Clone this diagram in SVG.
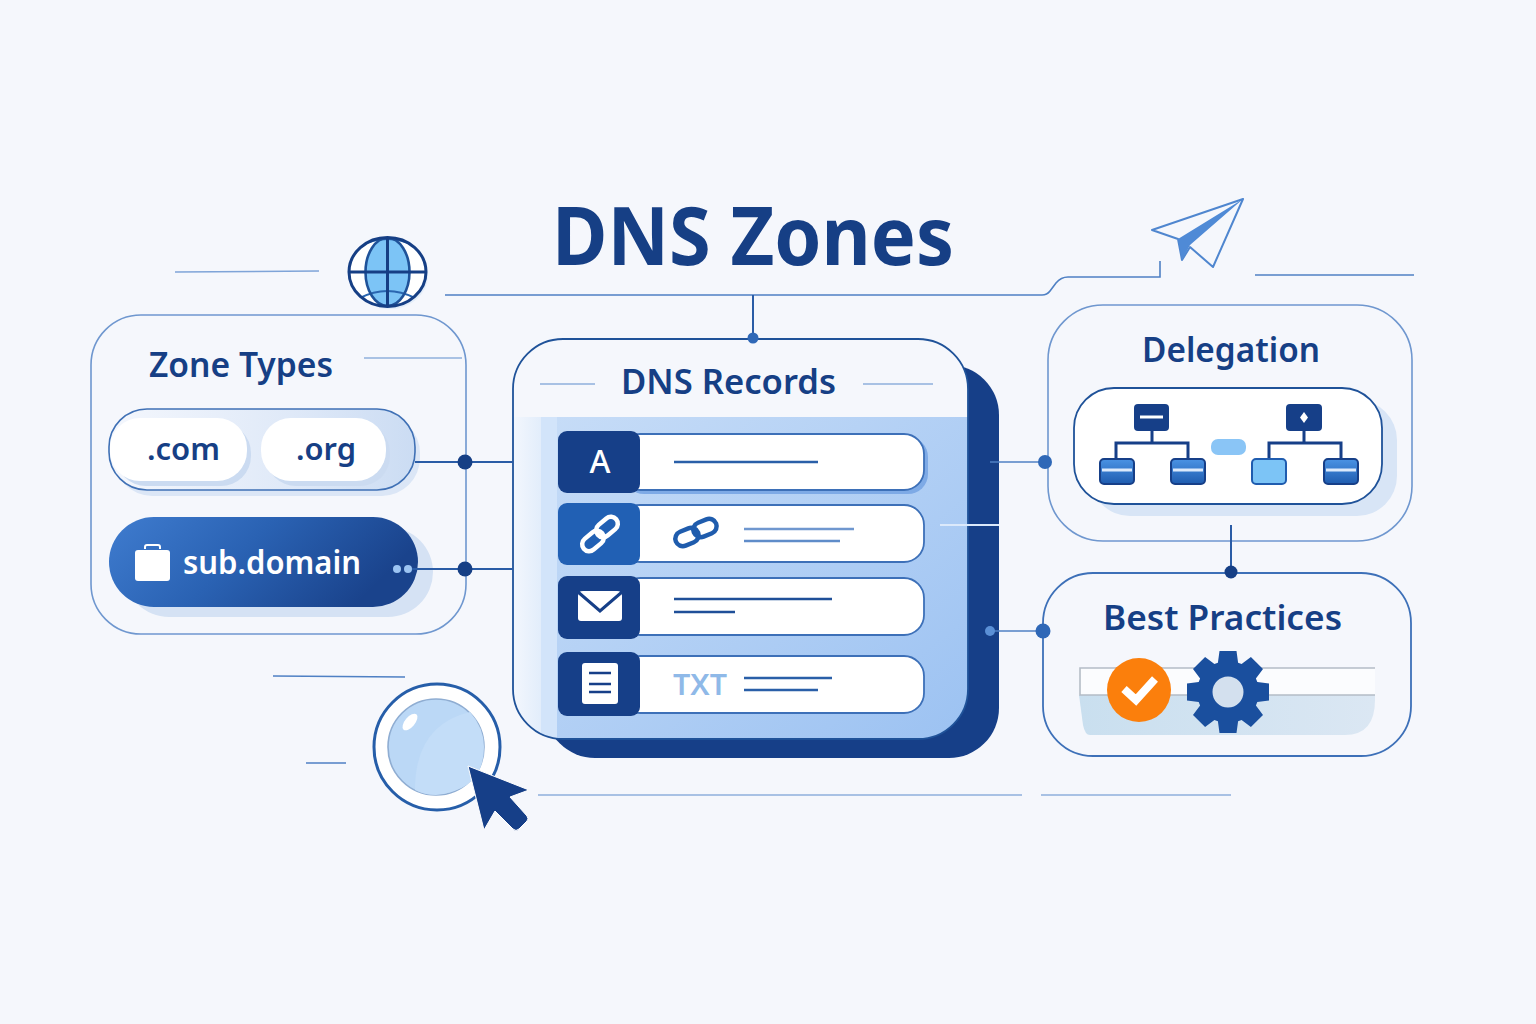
<svg xmlns="http://www.w3.org/2000/svg" width="1536" height="1024" viewBox="0 0 1536 1024">
<style>
text{font-family:"Noto Sans","Open Sans","Liberation Sans",sans-serif;font-weight:600;fill:#163f85}
.panel{fill:#f5f7fc;stroke:#6f97cf;stroke-width:1.6}
.ln{fill:none;stroke:#4f80c4;stroke-width:1.6}
.lt{fill:none;stroke:#8fb0dc;stroke-width:1.6}
.dk{fill:none;stroke:#2a5ca6;stroke-width:2}
.row{fill:#fff;stroke:#3d70b8;stroke-width:1.8}
.sq{fill:#163f88}
.rl{stroke-width:2.6;fill:none;stroke:#1d4f9c}
.tree{fill:none;stroke:#163f88;stroke-width:3}
.cb{stroke:#163f88;stroke-width:2}
</style>
<defs>
<linearGradient id="gBody" x1="0" y1="0" x2="1" y2="1"><stop offset="0" stop-color="#c6dcf7"/><stop offset="1" stop-color="#9cc2f2"/></linearGradient>
<linearGradient id="gSub" x1="0" y1="0" x2="1" y2="0.3"><stop offset="0" stop-color="#3f7ccf"/><stop offset="0.5" stop-color="#2a62b3"/><stop offset="1" stop-color="#1a438c"/></linearGradient>
<linearGradient id="gPill" x1="0" y1="0" x2="1" y2="0"><stop offset="0" stop-color="#f4f7fd"/><stop offset="0.6" stop-color="#dfe9f8"/><stop offset="1" stop-color="#cbdcf3"/></linearGradient>
<linearGradient id="gStrip" x1="0" y1="0" x2="1" y2="0"><stop offset="0" stop-color="#f3f7fd"/><stop offset="1" stop-color="#e2edfb"/></linearGradient>
<linearGradient id="gChild" x1="0" y1="0" x2="0" y2="1"><stop offset="0" stop-color="#4a93e4"/><stop offset="1" stop-color="#1f5caf"/></linearGradient>
<linearGradient id="gBar" x1="0" y1="0" x2="1" y2="0"><stop offset="0" stop-color="#c9dfef"/><stop offset="1" stop-color="#dbe7f3"/></linearGradient>
<clipPath id="cpRec"><rect x="513" y="339" width="455" height="400" rx="50"/></clipPath>
<clipPath id="cpGlobe"><ellipse cx="387.500" cy="272" rx="38" ry="34"/></clipPath>
</defs>
<rect width="1536" height="1024" fill="#f5f7fc"/>

<g id="title"><text x="552" y="265" font-size="81" textLength="402" lengthAdjust="spacingAndGlyphs" style="font-weight:700">DNS Zones</text></g>

<g id="zone-types">
<rect class="panel" x="91" y="315" width="375" height="319" rx="50"/>
<text x="149" y="377" font-size="35" textLength="184" lengthAdjust="spacingAndGlyphs">Zone Types</text>
<path class="lt" d="M364 358H462"/>
<rect x="114" y="415" width="306" height="81" rx="38" fill="#dbe6f6"/>
<rect x="109" y="409" width="306" height="81" rx="38" fill="url(#gPill)" stroke="#3f70b5" stroke-width="1.6"/>
<rect x="116" y="423" width="135" height="63" rx="30" fill="#cbdbf1"/>
<rect x="266" y="423" width="124" height="63" rx="30" fill="#cbdbf1"/>
<rect x="110" y="418" width="137" height="63" rx="30" fill="#fff"/>
<rect x="261" y="418" width="125" height="63" rx="30" fill="#fff"/>
<text x="147" y="460" font-size="31" textLength="73" lengthAdjust="spacingAndGlyphs">.com</text>
<text x="296" y="460" font-size="31" textLength="60" lengthAdjust="spacingAndGlyphs">.org</text>
<rect x="124" y="527" width="309" height="90" rx="45" fill="#d5e2f4"/>
<rect x="109" y="517" width="309" height="90" rx="45" fill="url(#gSub)"/>
<path d="M135 553q0-3 3-3h29q3 0 3 3v25q0 3-3 3h-29q-3 0-3-3z" fill="#fff"/>
<path d="M145 549v-2q0-2 2-2h11q2 0 2 2v2" fill="none" stroke="#fff" stroke-width="2"/>
<text x="183" y="574" font-size="33" textLength="178" lengthAdjust="spacingAndGlyphs" style="fill:#fff">sub.domain</text>
<circle cx="397" cy="569" r="4" fill="#9cc4f2"/><circle cx="408" cy="569" r="4" fill="#9cc4f2"/>
</g>

<g id="globe">
<ellipse cx="390" cy="275" rx="38" ry="34" fill="#e3edf9"/>
<ellipse cx="387.500" cy="272" rx="38" ry="34" fill="#fff"/>
<g clip-path="url(#cpGlobe)">
<path d="M360 244Q387 228 415 244L420 230H355ZM360 300Q387 316 415 300L420 314H355Z" fill="#7cc4f6"/>
<ellipse cx="387.500" cy="272" rx="22" ry="34" fill="#7cc4f6"/>
<path d="M360 246Q387 232 415 246M360 298Q387 284 415 298" fill="none" stroke="#2a66b0" stroke-width="2"/>
<path d="M355 241Q387 225 420 241M355 303Q387 319 420 303" fill="none" stroke="#163f85" stroke-width="2.500"/>
</g>
<ellipse cx="387.500" cy="272" rx="22" ry="34" fill="none" stroke="#1f5299" stroke-width="2.600"/>
<path d="M349 272H426M387.500 238V306" stroke="#163f85" stroke-width="3"/>
<ellipse cx="387.500" cy="272" rx="38.500" ry="34.500" fill="none" stroke="#163f85" stroke-width="3"/>
</g>

<g id="plane">
<path d="M1243 199L1152 230L1178 239L1182 260L1190 247L1213 267Z" fill="#f5f7fc" stroke="#4f86cf" stroke-width="2" stroke-linejoin="round"/>
<path d="M1243 199L1178 239L1182 260L1190 245Z" fill="#4f8ad6"/>
</g>

<g id="dns-records">
<rect x="545" y="365" width="454" height="393" rx="50" fill="#163f88"/>
<rect x="513" y="339" width="455" height="400" rx="50" fill="#f5f7fc"/>
<g clip-path="url(#cpRec)">
<rect x="513" y="417" width="28" height="322" fill="url(#gStrip)"/>
<rect x="541" y="417" width="16" height="322" fill="#d2e4fa"/>
<rect x="557" y="417" width="411" height="322" fill="url(#gBody)"/>
</g>
<rect x="513" y="339" width="455" height="400" rx="50" fill="none" stroke="#1f5299" stroke-width="1.800"/>
<text x="621" y="394" font-size="35" textLength="215" lengthAdjust="spacingAndGlyphs">DNS Records</text>
<path class="lt" d="M540 384H595M863 384H933"/>

<rect x="624" y="437" width="304" height="57" rx="20" fill="#7eaae6"/>
<rect class="row" x="620" y="434" width="304" height="56" rx="20"/>
<rect class="row" x="620" y="505" width="304" height="57" rx="20"/>
<rect class="row" x="620" y="578" width="304" height="57" rx="20"/>
<rect class="row" x="620" y="656" width="304" height="57" rx="20"/>
<rect class="sq" x="558" y="431" width="82" height="62" rx="9"/>
<rect x="558" y="503" width="82" height="62" rx="9" fill="#2160b4"/>
<rect class="sq" x="558" y="576" width="82" height="63" rx="9"/>
<rect class="sq" x="558" y="652" width="82" height="64" rx="9"/>
<text x="600" y="473" font-size="32" text-anchor="middle" style="fill:#fff;font-weight:500">A</text>
<g fill="none" stroke="#fff" stroke-width="4.500">
<rect x="-12" y="-7" width="24" height="14" rx="7" transform="translate(593 541) rotate(-40)"/>
<rect x="-12" y="-7" width="24" height="14" rx="7" transform="translate(607 527) rotate(-40)"/>
</g>
<g fill="none" stroke="#1f5cad" stroke-width="4.500">
<rect x="-12" y="-7.500" width="24" height="15" rx="7.500" transform="translate(687 537) rotate(-22)"/>
<rect x="-12" y="-7.500" width="24" height="15" rx="7.500" transform="translate(705 528) rotate(-22)"/>
</g>
<path d="M578 596q0-5 5-5h34q5 0 5 5v22q0 3-3 3h-38q-3 0-3-3z" fill="#fff"/>
<path d="M578 592L600 611L622 592" fill="none" stroke="#163f88" stroke-width="3"/>
<rect x="582" y="663" width="36" height="41" rx="3" fill="#fff"/>
<path d="M589 673H611M589 684H611M589 692H611" stroke="#163f88" stroke-width="2.400"/>
<text x="673" y="695" font-size="28" textLength="54" lengthAdjust="spacingAndGlyphs" style="fill:#8fb9e8;font-weight:600">TXT</text>
<path class="rl" style="stroke:#2a5fa8" d="M674 462H818"/>
<path class="rl" style="stroke:#6f97cf" d="M744 529H854"/>
<path class="rl" style="stroke:#5f8cc9" d="M744 541H840"/>
<path class="rl" style="stroke:#1f4f98" d="M674 599H832M674 612H735"/>
<path class="rl" style="stroke:#2a5fa8" d="M744 678H832M744 690H818"/>
</g>

<g id="delegation">
<rect class="panel" x="1048" y="305" width="364" height="236" rx="55"/>
<text x="1142" y="362" font-size="35" textLength="178" lengthAdjust="spacingAndGlyphs">Delegation</text>
<rect x="1090" y="400" width="307" height="116" rx="40" fill="#d8e5f6"/>
<rect x="1074" y="388" width="308" height="116" rx="40" fill="#fff" stroke="#1f5299" stroke-width="1.800"/>
<path class="tree" d="M1152 431V443M1116 458V443H1188V458M1304 431V443M1269 458V443H1341V458"/>
<rect class="sq" x="1134" y="404" width="35" height="27" rx="4"/>
<path d="M1140 417H1163" stroke="#fff" stroke-width="3"/>
<rect class="sq" x="1286" y="404" width="36" height="27" rx="4"/>
<path d="M1304 412L1308 417.500L1304 423L1300 417.500Z" fill="#fff"/>
<rect class="cb" x="1100" y="459" width="34" height="25" rx="4" fill="url(#gChild)"/>
<rect class="cb" x="1171" y="459" width="34" height="25" rx="4" fill="url(#gChild)"/>
<rect x="1252" y="459" width="34" height="25" rx="4" fill="#7cc4f6" stroke="#1f5caf" stroke-width="2"/>
<rect class="cb" x="1324" y="459" width="34" height="25" rx="4" fill="url(#gChild)"/>
<path d="M1102 470H1132M1173 470H1203M1326 470H1356" stroke="#dbe9fb" stroke-width="3"/>
<rect x="1211" y="439" width="35" height="16" rx="7" fill="#8ac5f6"/>
</g>

<g id="best-practices">
<rect x="1043" y="573" width="368" height="183" rx="50" fill="#f5f7fc" stroke="#3d70b8" stroke-width="1.800"/>
<text x="1103" y="630" font-size="35" textLength="239" lengthAdjust="spacingAndGlyphs">Best Practices</text>
<path d="M1079 695H1375V700Q1375 735 1345 735H1090Q1085 735 1083 725Z" fill="url(#gBar)"/>
<path d="M1375 668H1079V695H1375Z" fill="#fbfcfe"/>
<path d="M1375 668H1080V695H1375" fill="none" stroke="#b4bcc6" stroke-width="1.600"/>
<circle cx="1139" cy="690" r="32" fill="#fb7f0c"/>
<path d="M1124 689L1136 700L1155 679" fill="none" stroke="#fff" stroke-width="8"/>
<circle cx="1228" cy="692" r="16" fill="#d3e0ee"/>
<path transform="translate(1228 692)" fill="#1a4f9e" fill-rule="evenodd" d="M-10.100-29.300L-8.500-41H8.500L10.100-29.300L13.600-27.900L22.900-35L35-22.900L27.900-13.600L29.300-10.100L41-8.500V8.500L29.300 10.100L27.900 13.600L35 22.900L22.900 35L13.600 27.900L10.100 29.300L8.500 41H-8.500L-10.100 29.300L-13.600 27.900L-22.900 35L-35 22.900L-27.900 13.600L-29.300 10.100L-41 8.500V-8.500L-29.300-10.100L-27.900-13.600L-35-22.900L-22.900-35L-13.600-27.900ZM0-15.500A15.500 15.500 0 1 0 0 15.500A15.500 15.500 0 1 0 0-15.500Z"/>
</g>

<g id="magnifier">
<circle cx="437" cy="747" r="63" fill="#fff" stroke="#265ea9" stroke-width="3"/>
<circle cx="436" cy="747" r="48" fill="#bbd8f6" stroke="#8fadd2" stroke-width="1.600"/>
<path d="M415 790Q415 725 470 712Q484 728 484 747Q484 790 436 795Q424 795 415 790Z" fill="#c3ddf8"/>
<ellipse cx="410" cy="722" rx="5" ry="10" transform="rotate(40 410 722)" fill="#fff"/>
<path d="M468 766L529 790L510 797L527 816Q529 819 527 821L519 829Q516 832 513 829L495 811L484 830Z" fill="#163f88" stroke="#fff" stroke-width="1"/>
</g>

<g id="connectors">
<path class="dk" d="M415 462H513M412 569H513"/>
<circle cx="465" cy="462" r="7.500" fill="#163f85"/>
<circle cx="465" cy="569" r="7.500" fill="#163f85"/>
<path class="ln" d="M445 295H1042Q1047 295 1050 291L1056 283Q1061 277 1068 277H1160V261"/>
<path class="dk" d="M753 295V338"/>
<circle cx="753" cy="338" r="5.500" fill="#2f68b7"/>
<path class="ln" d="M1255 275H1414"/>
<path class="lt" style="stroke:#7fa4d8" d="M175 272L319 271"/>
<path class="ln" d="M990 462H1045"/>
<circle cx="1045" cy="462" r="7" fill="#2f68b7"/>
<path d="M940 525H999" stroke="#dbe9fb" stroke-width="1.800"/>
<path class="ln" d="M990 631H1043"/>
<circle cx="990" cy="631" r="5" fill="#5b90d6"/>
<circle cx="1043" cy="631" r="7.500" fill="#2f68b7"/>
<path class="dk" d="M1231 525V572"/>
<circle cx="1231" cy="572" r="6.500" fill="#163f85"/>
<path class="lt" d="M538 795H1022M1041 795H1231"/>
<path class="ln" d="M273 676L405 677M306 763H346"/>
</g>
</svg>
